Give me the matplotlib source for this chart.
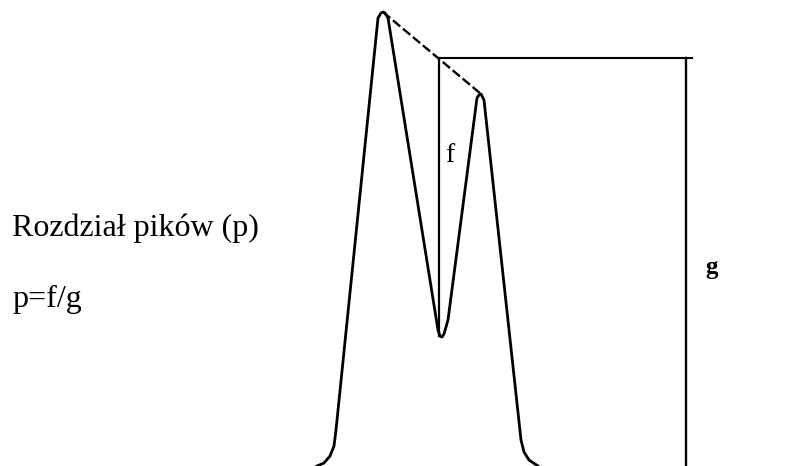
import matplotlib.pyplot as plt

# chromatogram trace (pixel units, y grows downward)
curve_x = [317, 324, 330, 334, 336, 378, 381, 383, 385, 388, 438, 440, 442, 444, 448, 477, 479, 481, 484, 521, 524, 529, 538]
curve_y = [466, 463, 456, 446, 430, 18, 13, 12, 13, 18, 330, 336, 337, 334, 320, 98, 95, 94, 100, 440, 452, 460, 466]

# peak tops used for the dashed tangent
peak_x = [383, 481]
peak_y = [12, 94]

# f segment (tangent -> valley) and g segment (tangent level -> baseline)
f_x = 439
f_top, f_bottom = 58, 336
g_x = 686
g_top, g_bottom = 58, 466
top_line_end = 692

title_txt = "Rozdział pików (p)"
formula_txt = "p=f/g"


def main():
    fig = plt.figure(figsize=(7.95, 4.66), dpi=100)
    ax = fig.add_axes([0, 0, 1, 1])
    ax.set_xlim(0, 795)
    ax.set_ylim(466, 0)
    ax.axis('off')

    ax.plot(curve_x, curve_y, color='black', lw=2.0, solid_joinstyle='round')
    ax.plot(peak_x, peak_y, color='black', lw=1.7, ls=(0, (4, 1.5)))
    ax.plot([f_x, f_x], [f_top, f_bottom], color='black', lw=1.6)
    ax.plot([f_x, top_line_end], [f_top, g_top], color='black', lw=1.5)
    ax.plot([g_x, g_x], [g_top, g_bottom], color='black', lw=1.7)

    ax.text(445, 162, "f", fontsize=20, family='Liberation Serif', va='baseline', ha='left')
    ax.text(705, 274, "g", fontsize=18, family='Liberation Serif', weight='bold',
            va='baseline', ha='left')

    ax.text(12, 236, title_txt, fontsize=23, family='Liberation Serif', va='baseline', ha='left')
    ax.text(12, 307, formula_txt, fontsize=23, family='Liberation Serif', va='baseline', ha='left')

    fig.savefig("out.png", dpi=100)
    plt.close(fig)


if __name__ == "__main__":
    main()
